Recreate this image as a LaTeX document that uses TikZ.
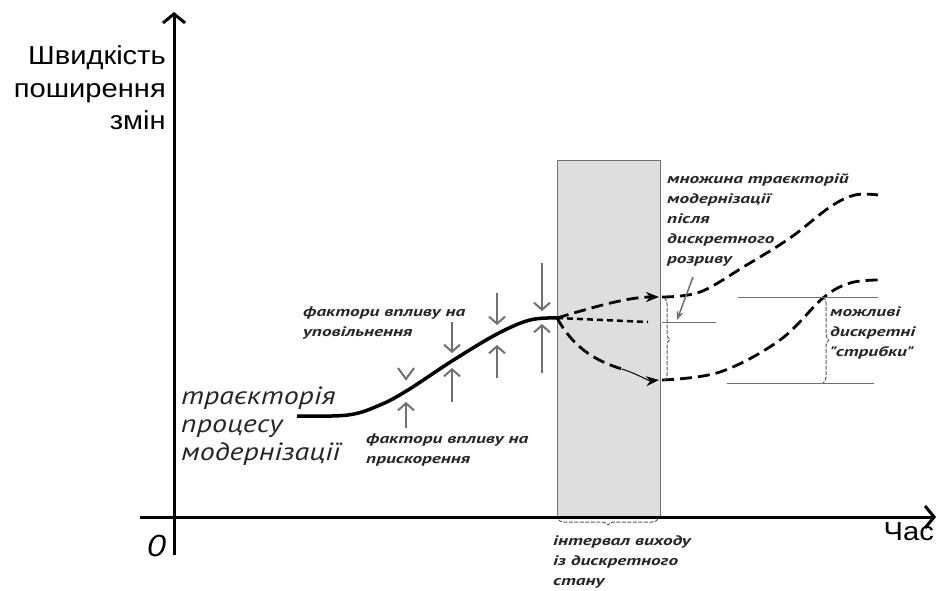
\documentclass[tikz,border=0pt]{standalone}
\usepackage{fontspec}
\setmainfont{Liberation Sans}
\newfontfamily\axfont{Liberation Sans}[FakeStretch=1.12]
\newfontfamily\labfont{PT Sans Bold Italic}[FakeStretch=1.4]
\newfontfamily\trfont{PT Sans Italic}[FakeStretch=1.2]
\usetikzlibrary{arrows.meta,decorations.pathreplacing}
\definecolor{gr}{HTML}{707070}
\definecolor{band}{HTML}{DEDEDE}
\tikzset{
  axis/.style={line width=3pt,-{Straight Barb[length=9pt,width=22pt,line width=3pt]}},
  force/.style={gr,line width=2pt,-{Straight Barb[length=7pt,width=16pt,line width=2pt]}},
  traj/.style={line width=3.5pt},
  branch/.style={line width=2.8pt,dash pattern=on 12pt off 6pt},
  lab/.style={font=\labfont\fontsize{13.8}{20}\selectfont,align=left,inner sep=0pt,text=black!85},
  big/.style={font=\axfont\fontsize{26}{32.5}\selectfont,inner sep=0pt},
  bigit/.style={font=\trfont\fontsize{25}{28}\selectfont,inner sep=0pt,align=left,text=black!85},
  thin/.style={gr,line width=1pt},
  brc/.style={gr!80!black,line width=1pt,dash pattern=on 4pt off 1.5pt,decorate,decoration={brace,amplitude=6pt}},
}
\begin{document}
\begin{tikzpicture}[x=1pt,y=-1pt]
\useasboundingbox (0,0) rectangle (939,591);
% band
\node[draw=gr,line width=1pt,fill=band,minimum width=103pt,minimum height=357pt,inner sep=0pt,anchor=north west] (band) at (557,160) {};
% axes
\coordinate (ystart) at (174,555);
\coordinate (yend) at (174,12);
\coordinate (xstart) at (140,517);
\coordinate (xend) at (936,517);
\draw[axis] (ystart) -- (yend);
\draw[axis] (xstart) -- (xend);
\node[big,anchor=east,align=right] (ylab) at (166,88) {Швидкість\\поширення\\змін};
\node[big,anchor=east] (xlab) at (934,532) {Час};
\node[font=\trfont\fontsize{30}{30}\selectfont,inner sep=0pt] (zero) at (156,546) {0};
% main trajectory
\coordinate (split) at (557,318);
\draw[traj] plot[smooth,tension=0.6] coordinates {(297,416) (348,415) (380,405) (408,390) (452,361) (497,334) (530,320) (557,318)};
% forces
\foreach \x/\a/\b/\c/\d in {452/322/353/402/368, 497/293/325/378/345, 542/263/311/373/324}{
  \draw[force] (\x,\a) -- (\x,\b);
  \draw[force] (\x,\c) -- (\x,\d);
}
\draw[gr,line width=2pt] (398,368) -- (406,379) -- (414,368);
\draw[force] (406,428) -- (406,402);
% branches
\coordinate (upend) at (659,297);
\coordinate (midend) at (648,322);
\coordinate (lowmid) at (622,369);
\coordinate (lowend) at (659,380);
\draw[branch,-{Stealth[length=13pt,width=10pt]}] (split) .. controls (600,305) and (630,297) .. (upend);
\draw[line width=2.5pt,dash pattern=on 6pt off 4pt] (split) -- (midend);
\draw[branch] (split) .. controls (572,345) and (592,360) .. (lowmid);
\draw[line width=1pt,-{Stealth[length=13pt,width=10pt]}] (lowmid) .. controls (640,375) and (648,381) .. (lowend);
% continuations
\draw[branch] plot[smooth,tension=0.6] coordinates {(662,297) (700,292) (745,266) (790,238) (830,207) (855,195) (878,195)};
\draw[branch] plot[smooth,tension=0.6] coordinates {(662,380) (720,372) (780,340) (823,298) (850,283) (878,280)};
% reference lines
\coordinate (h1a) at (738,297); \coordinate (h1b) at (878,297);
\coordinate (h2a) at (727,383); \coordinate (h2b) at (874,383);
\coordinate (h3a) at (662,322); \coordinate (h3b) at (716,322);
\draw[thin] (h1a) -- (h1b);
\draw[thin] (h2a) -- (h2b);
\draw[thin] (h3a) -- (h3b);
% braces
\coordinate (b1a) at (664,298); \coordinate (b1b) at (664,381);
\coordinate (b2a) at (823,297); \coordinate (b2b) at (823,383);
\coordinate (b3a) at (558,519); \coordinate (b3b) at (658,519);
\draw[brc] (b1a) -- (b1b);
\draw[brc] (b2a) -- (b2b);
\draw[brc] (b3b) -- (b3a);
% labels
\node[bigit,anchor=west] (traj) at (181,426) {траєкторія\\процесу\\модернізації};
\node[lab,anchor=west] (slow) at (303,323) {фактори впливу на\\уповільнення};
\node[lab,anchor=west] (fast) at (366,450) {фактори впливу на\\прискорення};
\node[lab,anchor=west] (set) at (667,220) {множина траєкторій\\модернізації\\після\\дискретного\\розриву};
\node[lab,anchor=west] (jumps) at (830,333) {можливі\\дискретні\\"стрибки"};
\node[lab,anchor=west] (interval) at (553,562) {інтервал виходу\\із дискретного\\стану};
\coordinate (ptr) at (677,320);
\draw[gr,line width=1.5pt,-{Stealth[length=9pt,width=7pt]}] (693,277) -- (ptr);
\end{tikzpicture}
\end{document}
